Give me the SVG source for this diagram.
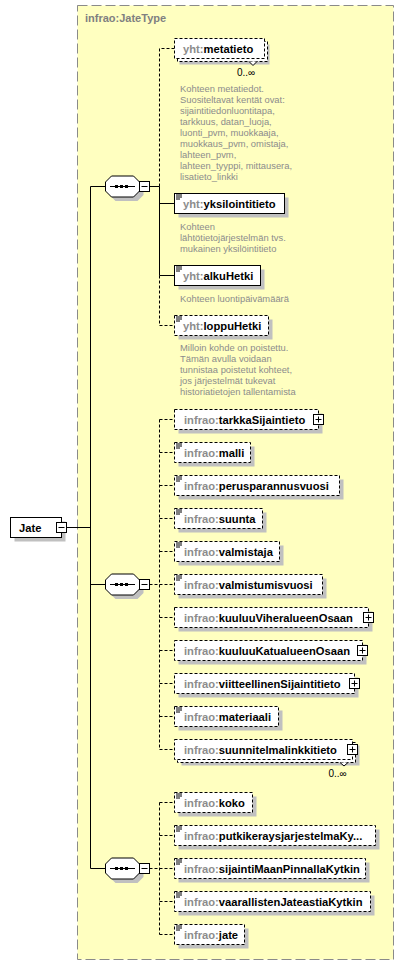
<svg xmlns="http://www.w3.org/2000/svg" width="404" height="966" viewBox="0 0 404 966">
<defs>
<style>
.bg{fill:#FFFFC0;stroke:#8A8A8A;stroke-width:1;stroke-dasharray:10,4}
.title{font-family:"Liberation Sans",Arial,sans-serif;font-size:11px;font-weight:bold;fill:#808080}
.box{fill:#fff;stroke:#000;stroke-width:1}
.opt{fill:#fff;stroke:#000;stroke-width:1;stroke-dasharray:3,2}
.sh{fill:#C0C0C0;stroke:none}
.lbl{font-family:"Liberation Sans",Arial,sans-serif;font-size:11.2px;font-weight:bold;fill:#000}
.pfx{fill:#8C8C8C}
.desc{font-family:"Liberation Sans",Arial,sans-serif;font-size:9.4px;fill:#8C8C8C}
.occ{font-family:"Liberation Sans",Arial,sans-serif;font-size:10px;fill:#000}
.ln{fill:none;stroke:#000;stroke-width:1}
.dl{fill:none;stroke:#000;stroke-width:1;stroke-dasharray:3,2}
.ic{stroke:#000;stroke-width:1}
</style>
<g id="icon"><path class="ic" d="M1.5,1.5h6M1.5,3.5h6M1.5,5.5h4"/></g>
<g id="plus"><rect class="box" x="0" y="0" width="10" height="10"/><path class="ic" d="M2,5h6M5,2v6"/></g>
<g id="minus"><rect class="box" x="0" y="0" width="10" height="10"/><path class="ic" d="M2,5h6"/></g>
<g id="seq">
<polygon class="sh" points="10,-6.5 32,-6.5 38,-0.5 38,8.5 32,14.5 10,14.5 4,8.5 4,-0.5"/>
<polygon class="box" points="6,-10.5 28,-10.5 34,-4.5 34,4.5 28,10.5 6,10.5 0,4.5 0,-4.5"/>
<path class="ic" d="M4.5,0h25"/>
<rect x="9.5" y="-1.5" width="3" height="3" fill="#000"/>
<rect x="14.5" y="-1.5" width="3" height="3" fill="#000"/>
<rect x="19.5" y="-1.5" width="3" height="3" fill="#000"/>
</g>
</defs>

<rect class="bg" x="77.5" y="5.5" width="316" height="954"/>
<text class="title" x="85" y="22">infrao:JateType</text>

<g id="connectors">
<path class="ln" d="M66.5,527.5H90.5M90.5,186.5V868.5M90.5,186.5H105.5M90.5,584.5H105.5M90.5,868.5H105.5"/>
<path class="ln" d="M149.5,186.5H159.5M159.5,186.5V275.5M159.5,203.5H174.5M159.5,275.5H174.5"/>
<path class="dl" d="M174.5,48.5H159.5V186.5M159.5,275.5V325.5H174.5"/>
<path class="dl" d="M149.5,584.5H159.5M159.5,419.5V749.5M159.5,419.5H174.5M159.5,452.5H174.5M159.5,485.5H174.5M159.5,518.5H174.5M159.5,551.5H174.5M159.5,584.5H174.5M159.5,617.5H174.5M159.5,650.5H174.5M159.5,683.5H174.5M159.5,716.5H174.5M159.5,749.5H174.5"/>
<path class="dl" d="M149.5,868.5H159.5M159.5,802.5V934.5M159.5,802.5H174.5M159.5,835.5H174.5M159.5,868.5H174.5M159.5,901.5H174.5M159.5,934.5H174.5"/>
</g>

<g id="Jate">
<rect class="sh" x="14.5" y="521.5" width="51" height="20"/>
<rect class="box" x="10.5" y="517.5" width="51" height="20"/>
<text class="lbl" x="19" y="531.5">Jate</text>
<use href="#minus" x="56.5" y="522.5"/>
</g>

<g id="seq1"><use href="#seq" x="105.5" y="186.5"/><use href="#minus" x="139.5" y="181.5"/></g>
<g id="seq2"><use href="#seq" x="105.5" y="584.5"/><use href="#minus" x="139.5" y="579.5"/></g>
<g id="seq3"><use href="#seq" x="105.5" y="868.5"/><use href="#minus" x="139.5" y="863.5"/></g>

<g id="metatieto">
<rect class="sh" x="179.5" y="44.5" width="90" height="20"/>
<rect class="opt" x="177.5" y="41.5" width="90" height="20"/>
<rect class="opt" x="174.5" y="38.5" width="90" height="20"/>
<polyline points="249,61.5 253,65.5 257,61.5" fill="#fff" stroke="#000" stroke-width="1"/>
<text class="lbl" x="183" y="52.5"><tspan class="pfx">yht:</tspan>metatieto</text>
<text class="occ" x="237" y="75.5">0..∞</text>
<text class="desc" x="180"><tspan x="180" y="92">Kohteen metatiedot.</tspan><tspan x="180" y="103">Suositeltavat kentät ovat:</tspan><tspan x="180" y="114">sijaintitiedonluontitapa,</tspan><tspan x="180" y="125">tarkkuus, datan_luoja,</tspan><tspan x="180" y="136">luonti_pvm, muokkaaja,</tspan><tspan x="180" y="147">muokkaus_pvm, omistaja,</tspan><tspan x="180" y="158">lahteen_pvm,</tspan><tspan x="180" y="169">lahteen_tyyppi, mittausera,</tspan><tspan x="180" y="180">lisatieto_linkki</tspan></text>
</g>

<g id="yksilointitieto">
<rect class="sh" x="178.5" y="197.5" width="110" height="20"/>
<rect class="box" x="174.5" y="193.5" width="110" height="20"/>
<use href="#icon" x="174.5" y="193.5"/>
<text class="lbl" x="183" y="207.5"><tspan class="pfx">yht:</tspan>yksilointitieto</text>
<text class="desc"><tspan x="180" y="229.5">Kohteen</tspan><tspan x="180" y="240.5">lähtötietojärjestelmän  tvs.</tspan><tspan x="180" y="251.5">mukainen yksilöintitieto</tspan></text>
</g>

<g id="alkuHetki">
<rect class="sh" x="178.5" y="269.5" width="86" height="20"/>
<rect class="box" x="174.5" y="265.5" width="86" height="20"/>
<use href="#icon" x="174.5" y="265.5"/>
<text class="lbl" x="183" y="279.5"><tspan class="pfx">yht:</tspan>alkuHetki</text>
<text class="desc" x="180" y="301.5">Kohteen luontipäivämäärä</text>
</g>

<g id="loppuHetki">
<rect class="sh" x="178.5" y="319.5" width="94" height="20"/>
<rect class="opt" x="174.5" y="315.5" width="94" height="20"/>
<use href="#icon" x="174.5" y="315.5"/>
<text class="lbl" x="183" y="329.5"><tspan class="pfx">yht:</tspan>loppuHetki</text>
<text class="desc"><tspan x="180" y="351">Milloin kohde on poistettu.</tspan><tspan x="180" y="362">Tämän avulla voidaan</tspan><tspan x="180" y="373">tunnistaa poistetut kohteet,</tspan><tspan x="180" y="384">jos järjestelmät tukevat</tspan><tspan x="180" y="395">historiatietojen tallentamista</tspan></text>
</g>

<g id="tarkkaSijaintieto">
<rect class="sh" x="178.5" y="413.5" width="144" height="20"/>
<rect class="opt" x="174.5" y="409.5" width="144" height="20"/>
<text class="lbl" x="184" y="423.5"><tspan class="pfx">infrao:</tspan>tarkkaSijaintieto</text>
<use href="#plus" x="313.5" y="414.5"/>
</g>
<g id="malli">
<rect class="sh" x="178.5" y="446.5" width="76" height="20"/>
<rect class="opt" x="174.5" y="442.5" width="76" height="20"/>
<use href="#icon" x="174.5" y="442.5"/>
<text class="lbl" x="184" y="456.5"><tspan class="pfx">infrao:</tspan>malli</text>
</g>
<g id="perusparannusvuosi">
<rect class="sh" x="178.5" y="479.5" width="165" height="20"/>
<rect class="opt" x="174.5" y="475.5" width="165" height="20"/>
<use href="#icon" x="174.5" y="475.5"/>
<text class="lbl" x="184" y="489.5"><tspan class="pfx">infrao:</tspan>perusparannusvuosi</text>
</g>
<g id="suunta">
<rect class="sh" x="178.5" y="512.5" width="88" height="20"/>
<rect class="opt" x="174.5" y="508.5" width="88" height="20"/>
<use href="#icon" x="174.5" y="508.5"/>
<text class="lbl" x="184" y="522.5"><tspan class="pfx">infrao:</tspan>suunta</text>
</g>
<g id="valmistaja">
<rect class="sh" x="178.5" y="545.5" width="105" height="20"/>
<rect class="opt" x="174.5" y="541.5" width="105" height="20"/>
<use href="#icon" x="174.5" y="541.5"/>
<text class="lbl" x="184" y="555.5"><tspan class="pfx">infrao:</tspan>valmistaja</text>
</g>
<g id="valmistumisvuosi">
<rect class="sh" x="178.5" y="578.5" width="148" height="20"/>
<rect class="opt" x="174.5" y="574.5" width="148" height="20"/>
<use href="#icon" x="174.5" y="574.5"/>
<text class="lbl" x="184" y="588.5"><tspan class="pfx">infrao:</tspan>valmistumisvuosi</text>
</g>
<g id="kuuluuViheralueenOsaan">
<rect class="sh" x="178.5" y="611.5" width="194" height="20"/>
<rect class="opt" x="174.5" y="607.5" width="194" height="20"/>
<text class="lbl" x="184" y="621.5"><tspan class="pfx">infrao:</tspan>kuuluuViheralueenOsaan</text>
<use href="#plus" x="363.5" y="612.5"/>
</g>
<g id="kuuluuKatualueenOsaan">
<rect class="sh" x="178.5" y="644.5" width="188" height="20"/>
<rect class="opt" x="174.5" y="640.5" width="188" height="20"/>
<text class="lbl" x="184" y="654.5"><tspan class="pfx">infrao:</tspan>kuuluuKatualueenOsaan</text>
<use href="#plus" x="357.5" y="645.5"/>
</g>
<g id="viitteellinenSijaintitieto">
<rect class="sh" x="178.5" y="677.5" width="180" height="20"/>
<rect class="opt" x="174.5" y="673.5" width="180" height="20"/>
<text class="lbl" x="184" y="687.5"><tspan class="pfx">infrao:</tspan>viitteellinenSijaintitieto</text>
<use href="#plus" x="349.5" y="678.5"/>
</g>
<g id="materiaali">
<rect class="sh" x="178.5" y="710.5" width="104" height="20"/>
<rect class="opt" x="174.5" y="706.5" width="104" height="20"/>
<use href="#icon" x="174.5" y="706.5"/>
<text class="lbl" x="184" y="720.5"><tspan class="pfx">infrao:</tspan>materiaali</text>
</g>
<g id="suunnitelmalinkkitieto">
<rect class="sh" x="181.5" y="745.5" width="178" height="20"/>
<rect class="opt" x="177.5" y="742.5" width="178" height="20"/>
<rect class="opt" x="174.5" y="739.5" width="178" height="20"/>
<polyline points="340,762.5 344,766 348,762.5" fill="#fff" stroke="#000" stroke-width="1"/>
<text class="lbl" x="184" y="753.5"><tspan class="pfx">infrao:</tspan>suunnitelmalinkkitieto</text>
<use href="#plus" x="347.5" y="744.5"/>
<text class="occ" x="328.5" y="777">0..∞</text>
</g>

<g id="koko">
<rect class="sh" x="178.5" y="796.5" width="78" height="20"/>
<rect class="opt" x="174.5" y="792.5" width="78" height="20"/>
<use href="#icon" x="174.5" y="792.5"/>
<text class="lbl" x="184" y="806.5"><tspan class="pfx">infrao:</tspan>koko</text>
</g>
<g id="putkikeraysjarjestelmaKytkin">
<rect class="sh" x="178.5" y="829.5" width="201" height="20"/>
<rect class="opt" x="174.5" y="825.5" width="201" height="20"/>
<use href="#icon" x="174.5" y="825.5"/>
<text class="lbl" x="184" y="839.5"><tspan class="pfx">infrao:</tspan>putkikeraysjarjestelmaKy...</text>
</g>
<g id="sijaintiMaanPinnallaKytkin">
<rect class="sh" x="178.5" y="862.5" width="191" height="20"/>
<rect class="opt" x="174.5" y="858.5" width="191" height="20"/>
<use href="#icon" x="174.5" y="858.5"/>
<text class="lbl" x="184" y="872.5"><tspan class="pfx">infrao:</tspan>sijaintiMaanPinnallaKytkin</text>
</g>
<g id="vaarallistenJateastiaKytkin">
<rect class="sh" x="178.5" y="895.5" width="196" height="20"/>
<rect class="opt" x="174.5" y="891.5" width="196" height="20"/>
<use href="#icon" x="174.5" y="891.5"/>
<text class="lbl" x="184" y="905.5"><tspan class="pfx">infrao:</tspan>vaarallistenJateastiaKytkin</text>
</g>
<g id="jate">
<rect class="sh" x="178.5" y="928.5" width="70" height="20"/>
<rect class="opt" x="174.5" y="924.5" width="70" height="20"/>
<use href="#icon" x="174.5" y="924.5"/>
<text class="lbl" x="184" y="938.5"><tspan class="pfx">infrao:</tspan>jate</text>
</g>
</svg>
